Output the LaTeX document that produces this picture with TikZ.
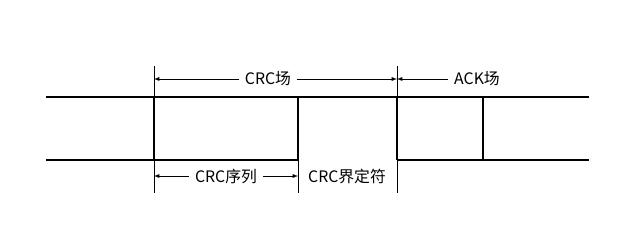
\documentclass[tikz,border=0pt]{standalone}
\usepackage{fontspec}
\setmainfont{Noto Sans CJK SC}
\usepackage{tikz}
\usetikzlibrary{arrows,positioning,calc}

\begin{document}
\begin{tikzpicture}[
    signal/.style={line width=1.5pt},
    guide/.style={line width=0.7pt},
    dim/.style={->, line width=0.6pt, >=latex},
    label/.style={font=\fontsize{13.5}{15}\selectfont, inner xsep=5pt, inner ysep=1pt}
]
    \useasboundingbox (0,0) rectangle (19.2,6.87);

    % signal corners
    \coordinate (tl) at (1.38,3.96);
    \coordinate (bl) at (1.38,2.07);
    \coordinate (a1) at (4.62,3.96);
    \coordinate (a2) at (4.62,2.07);
    \coordinate (b1) at (8.94,3.96);
    \coordinate (b2) at (8.94,2.07);
    \coordinate (c1) at (11.91,3.96);
    \coordinate (c2) at (11.91,2.07);
    \coordinate (d1) at (14.49,3.96);
    \coordinate (d2) at (14.49,2.07);
    \coordinate (tr) at (17.67,3.96);
    \coordinate (br) at (17.67,2.07);

    % guide line ends
    \coordinate (a0) at (4.62,4.89);
    \coordinate (a3) at (4.62,1.08);
    \coordinate (b3) at (8.94,1.08);
    \coordinate (c0) at (11.91,4.89);
    \coordinate (c3) at (11.91,1.08);

    \draw[signal] (tl) -- (tr);
    \draw[signal] (bl) -- (b2);
    \draw[signal] (c2) -- (br);
    \draw[signal] (a1) -- (a2);
    \draw[signal] (b1) -- (b2);
    \draw[signal] (c1) -- (c2);
    \draw[signal] (d1) -- (d2);

    \draw[guide] (a0) -- (a1);
    \draw[guide] (a2) -- (a3);
    \draw[guide] (b2) -- (b3);
    \draw[guide] (c0) -- (c1);
    \draw[guide] (c2) -- (c3);

    % labels
    \node[label] (crc) at (8.04,4.5) {CRC场};
    \node[label] (ack) at (14.31,4.5) {ACK场};
    \node[label] (seq) at (6.78,1.59) {CRC序列};
    \node[label] (del) at (10.41,1.59) {CRC界定符};

    \draw[dim] (crc.west) -- (crc.west -| a0);
    \draw[dim] (crc.east) -- (crc.east -| c0);
    \draw[dim] (ack.west) -- (ack.west -| c0);
    \draw[dim] (seq.west) -- (seq.west -| a3);
    \draw[dim] (seq.east) -- (seq.east -| b3);
\end{tikzpicture}
\end{document}
